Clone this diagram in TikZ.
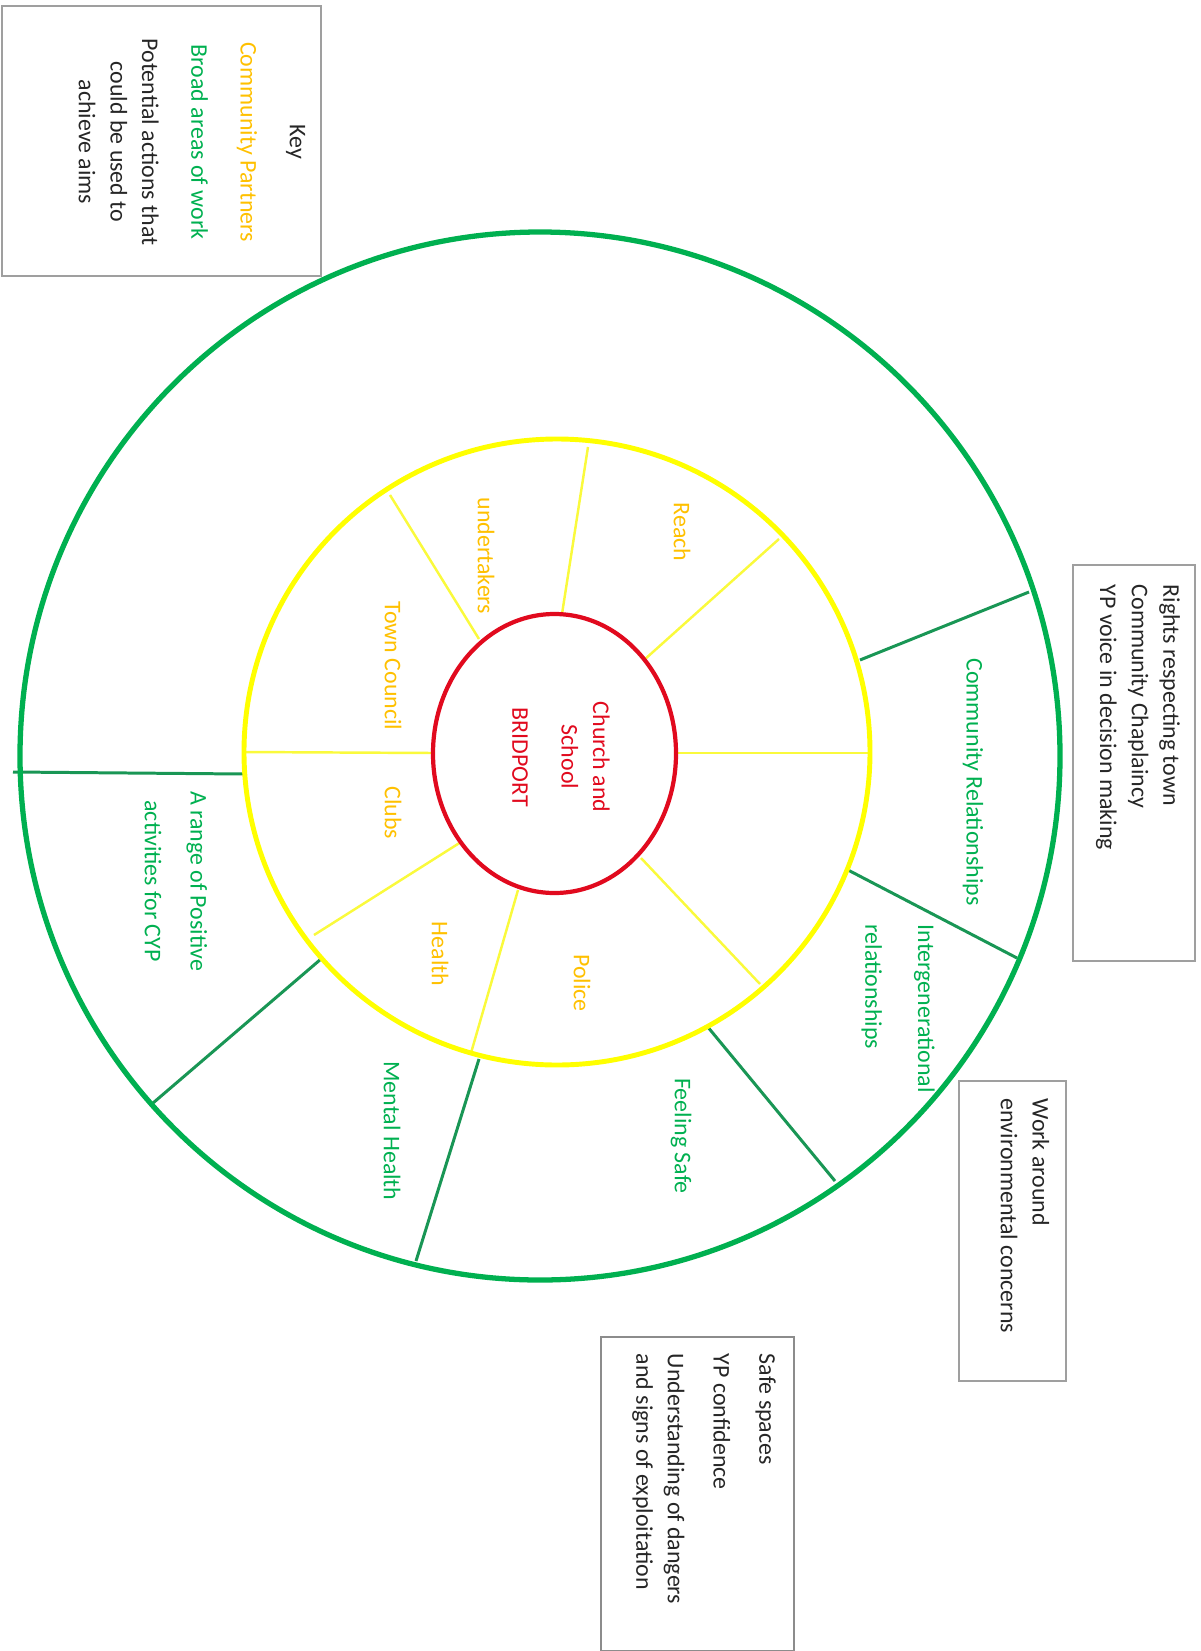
\documentclass[tikz,border=0pt]{standalone}
\usepackage{fontspec}
\setmainfont{Carlito}
\usepackage{tikz}
\usetikzlibrary{positioning,calc}

\definecolor{ringgreen}{RGB}{0,176,80}
\definecolor{spokegreen}{RGB}{25,150,85}
\definecolor{ringyellow}{RGB}{255,255,0}
\definecolor{spokeyellow}{RGB}{250,250,60}
\definecolor{hubred}{RGB}{225,10,30}
\definecolor{partnerorange}{RGB}{255,192,0}
\definecolor{areagreen}{RGB}{0,176,80}

\tikzset{
  rottext/.style={rotate=-90, inner sep=0pt, font=\fontsize{6.8}{9}\selectfont},
  partnertext/.style={rottext, text=partnerorange},
  areatext/.style={rottext, text=areagreen},
  hubtext/.style={rottext, text=hubred},
  actiontext/.style={rottext, text=black!85},
  actionbox/.style={draw=gray!75, line width=0.5pt},
  yellowspoke/.style={spokeyellow, line width=0.7pt},
  greenspoke/.style={spokegreen, line width=0.85pt}
}

\begin{document}
\begin{tikzpicture}[x=0.01cm, y=-0.01cm]
\useasboundingbox (0,0) rectangle (1201,1651);

% Spokes between hub and partner ring
\draw[yellowspoke] (676,753) -- (871,753);
\draw[yellowspoke] (434,753) -- (243,752);
\draw[yellowspoke] (644,660) -- (779,539);
\draw[yellowspoke] (562,614) -- (588,447);
\draw[yellowspoke] (479,639) -- (390,495);
\draw[yellowspoke] (461,842) -- (314,935);
\draw[yellowspoke] (518,890) -- (471,1053);
\draw[yellowspoke] (641,858) -- (760,984);

% Spokes between partner ring and outer ring
\draw[greenspoke] (860,660) -- (1029,592);
\draw[greenspoke] (848,870) -- (1017,958);
\draw[greenspoke] (707,1026) -- (835,1181);
\draw[greenspoke] (479,1059) -- (416,1261);
\draw[greenspoke] (321,959) -- (153,1103);
\draw[greenspoke] (244,774) -- (13,772);

% Rings
\draw[ringgreen, line width=1.5pt] (540,756) ellipse [x radius=520, y radius=524];
\draw[ringyellow, line width=1.4pt] (557,752) circle [radius=313];
\draw[hubred, line width=1.2pt, fill=white] (554.5,753.5) ellipse [x radius=121.5, y radius=139.5];

% Hub
\node[hubtext, align=center] (hub) at (561,757) {Church and\\School\\[5pt]BRIDPORT};

% Community partners
\node[partnertext] (reach) at (682,532) {Reach};
\node[partnertext] (undertakers) at (486,556) {undertakers};
\node[partnertext] (towncouncil) at (393,666) {Town Council};
\node[partnertext] (clubs) at (393,813) {Clubs};
\node[partnertext] (health) at (440,954) {Health};
\node[partnertext] (police) at (582,983) {Police};

% Broad areas of work
\node[areatext] (community) at (973,782) {Community Relationships};
\node[areatext, align=left, anchor=west] (intergen) at (898,924) {Intergenerational\\[6pt]relationships};
\node[areatext] (feelingsafe) at (681,1136) {Feeling Safe};
\node[areatext] (mentalhealth) at (392,1131) {Mental Health};
\node[areatext, align=center] (activities) at (176,881) {A range of Positive\\[4pt]activities for CYP};

% Key
\draw[actionbox] (2,6) rectangle (321,276);
\node[actiontext, align=center] (key) at (192,142) {Key\\[5pt]\textcolor{partnerorange}{Community Partners}\\[5pt]\textcolor{areagreen}{Broad areas of work}\\[5pt]Potential actions that\\could be used to\\achieve aims};

% Potential actions
\draw[actionbox] (1073,565) rectangle (1195,961);
\node[actiontext, align=left, anchor=west] (rights) at (1138,584) {Rights respecting town\\Community Chaplaincy\\YP voice in decision making};

\draw[actionbox] (959,1081) rectangle (1066,1381);
\node[actiontext, align=left, anchor=west] (environment) at (1025,1098) {Work around\\environmental concerns};

\draw[actionbox, draw=gray!90, line width=0.7pt] (601,1337) rectangle (794,1651);
\node[actiontext, align=left, anchor=west] (safety) at (704,1353) {Safe spaces\\[4pt]YP confidence\\[4pt]Understanding of dangers\\and signs of exploitation};

\end{tikzpicture}
\end{document}
